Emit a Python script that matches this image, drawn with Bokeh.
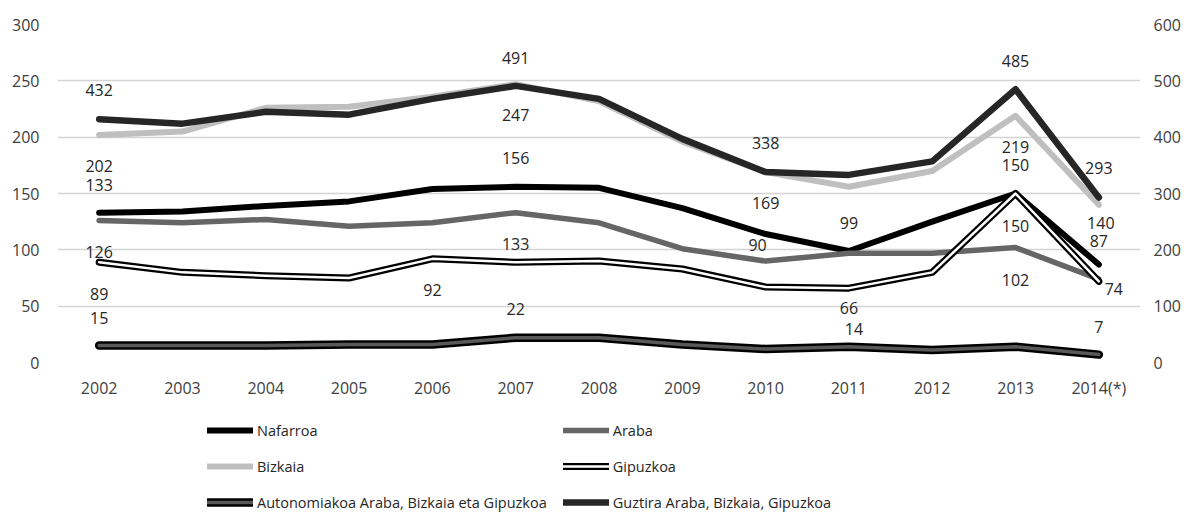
from bokeh.plotting import figure
from bokeh.layouts import column
from bokeh.models import (Range1d, LinearAxis, FixedTicker, ColumnDataSource,
                          Legend, LegendItem, FactorRange)
from bokeh.core.properties import value
from bokeh.embed import file_html
from bokeh.resources import INLINE

# ---------------- data ----------------
years = ["2002", "2003", "2004", "2005", "2006", "2007", "2008",
         "2009", "2010", "2011", "2012", "2013", "2014(*)"]
nafarroa = [133, 134, 139, 143, 154, 156, 155, 137, 114, 99, 125, 150, 87]
araba = [126, 124, 127, 121, 124, 133, 124, 101, 90, 97, 97, 102, 74]
bizkaia = [202, 205, 226, 227, 236, 247, 232, 196, 169, 156, 170, 219, 140]
gipuzkoa = [89, 80, 77, 75, 92, 89, 90, 83, 67, 66, 80, 150, 72]
autonomia = [15, 15, 15, 16, 16, 22, 22, 16, 12, 14, 11, 14, 7]
guztira = [432, 424, 445, 440, 468, 491, 468, 397, 338, 333, 357, 485, 293]

names = ["Nafarroa", "Araba", "Bizkaia", "Gipuzkoa",
         "Autonomiakoa Araba, Bizkaia eta Gipuzkoa",
         "Guztira Araba, Bizkaia, Gipuzkoa"]

left_ticks = [0, 50, 100, 150, 200, 250, 300]
right_ticks = [0, 100, 200, 300, 400, 500, 600]

# which years carry a data label, and label pixel offsets (dx, dy)
lab_nafarroa = (["2002", "2007", "2011", "2013", "2014(*)"], [0, 0, 0, 0, 0], [-28, -29, -28, -29, -23])
lab_araba = (["2002", "2007", "2010", "2013", "2014(*)"], [0, 0, -8, 0, 15], [31, 31, -16, 32, 10])
lab_bizkaia = (["2002", "2007", "2010", "2013", "2014(*)"], [0, 0, 0, 0, 2], [31, 31, 31, 31, 18])
lab_gipuzkoa = (["2002", "2006", "2011", "2013"], [0, 0, 0, 0], [32, 31, 20, 32])
lab_autonomia = (["2002", "2007", "2011", "2014(*)"], [0, 0, 5, 0], [-28, -29, -18, -28])
lab_guztira = (["2002", "2007", "2010", "2013", "2014(*)"], [0, 0, 0, 0, 0], [-29, -28, -29, -28, -29])

FONT = "Open Sans"
TXT = "#262626"
W = 1181

p = figure(x_range=FactorRange(*years), y_range=Range1d(0, 300),
           width=W, frame_width=1083, frame_height=338,
           min_border_left=57, min_border_right=41, min_border_top=24,
           min_border_bottom=0,
           output_backend="svg", toolbar_location=None)
p.extra_y_ranges = {"right": Range1d(0, 600)}
p.outline_line_color = None
p.background_fill_color = "white"
p.border_fill_color = "white"

p.xgrid.grid_line_color = None
p.ygrid.ticker = FixedTicker(ticks=left_ticks)
p.ygrid.grid_line_color = "#d4d4d4"
p.ygrid.grid_line_width = 1.3

def style_axis(ax, standoff):
    ax.axis_line_color = None
    ax.major_tick_line_color = None
    ax.minor_tick_line_color = None
    ax.major_tick_in = 0
    ax.major_tick_out = 0
    ax.major_label_text_font = FONT
    ax.major_label_text_font_size = "16px"
    ax.major_label_text_color = "#404040"
    ax.major_label_standoff = standoff

p.yaxis.ticker = FixedTicker(ticks=left_ticks)
style_axis(p.yaxis[0], 18)
style_axis(p.xaxis[0], 14)

rax = LinearAxis(y_range_name="right", ticker=FixedTicker(ticks=right_ticks))
style_axis(rax, 13)
p.add_layout(rax, "right")

kw = dict(line_join="round", line_cap="round")
styles = [
    [dict(line_color="#000000", line_width=6)],
    [dict(line_color="#666666", line_width=5.5)],
    [dict(line_color="#bfbfbf", line_width=6)],
    [dict(line_color="#000000", line_width=7), dict(line_color="#ffffff", line_width=2.5)],
    [dict(line_color="#000000", line_width=8.5), dict(line_color="#595959", line_width=3.5)],
    [dict(line_color="#262626", line_width=6.5)],
]
series = [nafarroa, araba, bizkaia, gipuzkoa, autonomia, guztira]
for i, (vals, st) in enumerate(zip(series, styles)):
    rn = "right" if i == 5 else "default"
    for s in st:
        p.line(years, vals, y_range_name=rn, **s, **kw)

def add_labels(series_vals, lab, range_name="default"):
    yrs, dx, dy = lab
    vals = [series_vals[years.index(y)] for y in yrs]
    src = ColumnDataSource(dict(x=yrs, y=vals, t=[str(v) for v in vals], dx=dx, dy=dy))
    p.text(x="x", y="y", text="t", x_offset="dx", y_offset="dy", source=src,
           text_font=value(FONT), text_font_size="16px", text_color=TXT,
           text_align="center", text_baseline="middle", y_range_name=range_name)

add_labels(nafarroa, lab_nafarroa)
add_labels(araba, lab_araba)
add_labels(bizkaia, lab_bizkaia)
add_labels(gipuzkoa, lab_gipuzkoa)
add_labels(autonomia, lab_autonomia)
add_labels(guztira, lab_guztira, "right")

# ---------------- legend strip ----------------
LH = 112
p2 = figure(width=W, height=LH, x_range=Range1d(0, 1), y_range=Range1d(0, 1),
            min_border=0, x_axis_location=None, y_axis_location=None,
            output_backend="svg", toolbar_location=None)
p2.outline_line_color = None
p2.xgrid.visible = False
p2.ygrid.visible = False
p2.background_fill_color = "white"
p2.border_fill_color = "white"

# legend-only renderers: their data lie outside the strip's visible range
items = []
for name, st in zip(names, styles):
    rs = [p2.line([5, 6], [5, 5], **s, **kw) for s in st]
    items.append(LegendItem(label=name, renderers=rs))

legend = Legend(items=items, orientation="horizontal", ncols=2,
                location=(150, 1), padding=0, margin=0, spacing=16,
                glyph_width=46, glyph_height=20, label_standoff=4,
                label_text_font=FONT, label_text_font_size="14.5px",
                label_text_color=TXT, border_line_color=None,
                background_fill_alpha=0)
p2.add_layout(legend)

layout = column(p, p2, spacing=0)
open("out.html", "w").write(file_html(layout, INLINE))
